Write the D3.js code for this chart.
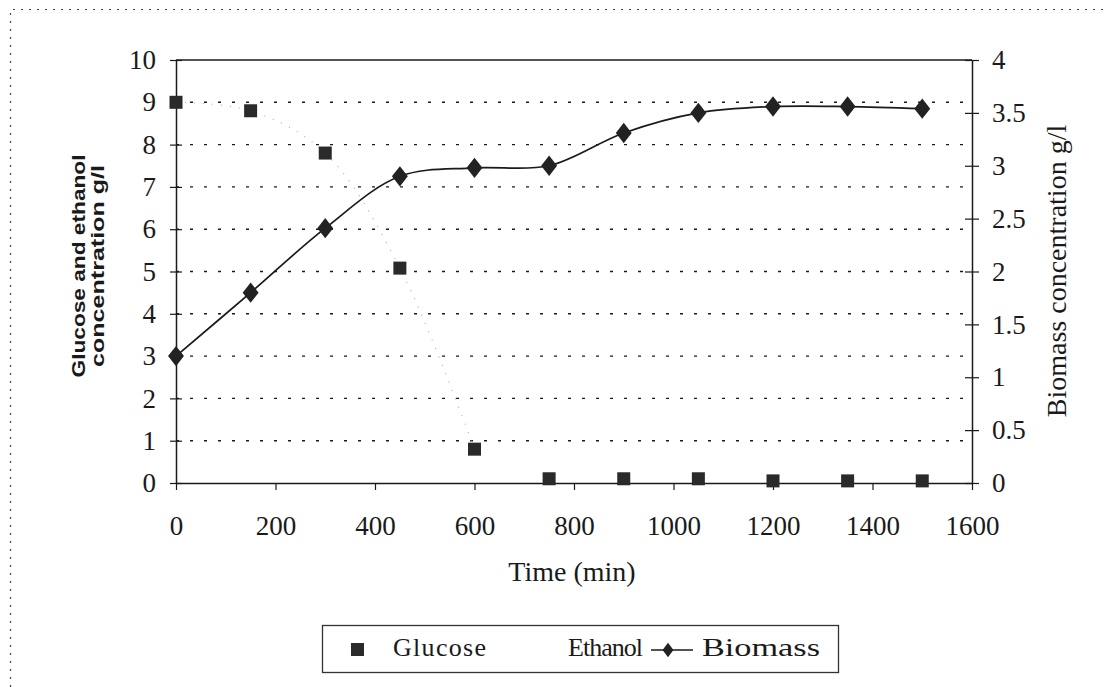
<!DOCTYPE html>
<html>
<head>
<meta charset="utf-8">
<script src="https://cdn.jsdelivr.net/npm/d3@7/dist/d3.min.js"></script>
<style>
  html, body { margin: 0; padding: 0; background: #fff; }
  svg { display: block; }
</style>
</head>
<body>
<svg id="chart" width="1106" height="687"></svg>
<script>
// Sampling times (min)
const time = [0, 150, 300, 450, 600, 750, 900, 1050, 1200, 1350, 1500];
// Glucose concentration, g/l (left axis)
const glucose = [9.0, 8.8, 7.8, 5.08, 0.8, 0.1, 0.1, 0.1, 0.05, 0.05, 0.05];
// Biomass concentration, g/l (right axis)
const biomass = [1.2, 1.8, 2.41, 2.9, 2.98, 3.0, 3.31, 3.5, 3.56, 3.56, 3.54];

const xTicks = [0, 200, 400, 600, 800, 1000, 1200, 1400, 1600];
const yLeftTicks = [0, 1, 2, 3, 4, 5, 6, 7, 8, 9, 10];
const yRightTicks = [0, 0.5, 1, 1.5, 2, 2.5, 3, 3.5, 4];

const ink = "#1a1a1a";
const serif = '"Liberation Serif", "Times New Roman", serif';
const sans = '"Liberation Sans", Arial, sans-serif';
const tickSize = 27;

const svg = d3.select("#chart")
  .style("font-family", serif)
  .attr("fill", ink);

const x = d3.scaleLinear().domain([0, 1600]).range([176, 972]);
const yL = d3.scaleLinear().domain([0, 10]).range([483, 60]);
const yR = d3.scaleLinear().domain([0, 4]).range([483, 60]);

// Outer dotted frame of the figure
svg.append("path")
  .attr("d", "M10.5,687 L10.5,9.5 L1106,9.5")
  .attr("fill", "none").attr("stroke", "#444")
  .attr("stroke-width", 1.2).attr("stroke-dasharray", "2,6");

// Dotted horizontal gridlines
svg.append("g").selectAll("line")
  .data(yLeftTicks.filter(d => d > 0 && d < 10))
  .join("line")
  .attr("x1", x(0)).attr("x2", x(1600))
  .attr("y1", d => yL(d)).attr("y2", d => yL(d))
  .attr("stroke", ink).attr("stroke-width", 1.4)
  .attr("stroke-dasharray", "3,11");

// Top border of plot area
svg.append("line")
  .attr("x1", x(0)).attr("x2", x(1600))
  .attr("y1", yL(10)).attr("y2", yL(10))
  .attr("stroke", ink).attr("stroke-width", 1.5);

function styleTicks(g) {
  g.attr("font-size", tickSize).style("font-family", serif);
  g.select(".domain").attr("stroke", ink).attr("stroke-width", 1.5);
  g.selectAll(".tick text").attr("fill", ink);
}

// Left axis
const leftAxis = svg.append("g")
  .attr("transform", `translate(${x(0)},0)`)
  .call(d3.axisLeft(yL).tickValues(yLeftTicks).tickSize(0).tickPadding(20).tickFormat(d3.format("d")))
  .call(styleTicks);
leftAxis.selectAll(".tick").append("line")
  .attr("x1", -6).attr("x2", 6).attr("stroke", ink).attr("stroke-width", 1.2);

// Right axis
const rightAxis = svg.append("g")
  .attr("transform", `translate(${x(1600)},0)`)
  .call(d3.axisRight(yR).tickValues(yRightTicks).tickSize(0).tickPadding(20).tickFormat(d => String(d)))
  .call(styleTicks);
rightAxis.selectAll(".tick").append("line")
  .attr("x1", -7).attr("x2", 7).attr("stroke", ink).attr("stroke-width", 1.2);

// Bottom axis
const bottomAxis = svg.append("g")
  .attr("transform", `translate(0,${yL(0)})`)
  .call(d3.axisBottom(x).tickValues(xTicks).tickSize(0).tickPadding(33).tickFormat(d3.format("d")))
  .call(styleTicks);
bottomAxis.selectAll(".tick").append("line")
  .attr("y1", 0).attr("y2", 7).attr("stroke", ink).attr("stroke-width", 1.2);

// Axis titles
svg.append("text")
  .attr("transform", `translate(85,266) rotate(-90)`)
  .attr("text-anchor", "middle").attr("font-size", 19).attr("font-weight", "bold")
  .style("font-family", sans)
  .attr("textLength", 223).attr("lengthAdjust", "spacingAndGlyphs")
  .text("Glucose and ethanol");
svg.append("text")
  .attr("transform", `translate(104,266) rotate(-90)`)
  .attr("text-anchor", "middle").attr("font-size", 19).attr("font-weight", "bold")
  .style("font-family", sans)
  .attr("textLength", 202).attr("lengthAdjust", "spacingAndGlyphs")
  .text("concentration g/l");
svg.append("text")
  .attr("transform", `translate(1066,271) rotate(-90)`)
  .attr("text-anchor", "middle").attr("font-size", 28)
  .text("Biomass concentration g/l");
svg.append("text")
  .attr("x", 572).attr("y", 581)
  .attr("text-anchor", "middle").attr("font-size", 28)
  .text("Time (min)");

// Faint smoothed trend through the glucose samples
const glucosePts = time.map((t, i) => [t, glucose[i]]).slice(0, 5);
svg.append("path")
  .datum(glucosePts)
  .attr("d", d3.line().x(d => x(d[0])).y(d => yL(d[1])).curve(d3.curveCatmullRom))
  .attr("fill", "none").attr("stroke", "#aaa")
  .attr("stroke-width", 1.1).attr("stroke-dasharray", "1,8");

// Biomass smoothed line
const biomassPts = time.map((t, i) => [t, biomass[i]]);
svg.append("path")
  .datum(biomassPts)
  .attr("d", d3.line().x(d => x(d[0])).y(d => yR(d[1])).curve(d3.curveCatmullRom))
  .attr("fill", "none").attr("stroke", ink).attr("stroke-width", 1.7);

// Biomass diamonds
const diamond = d3.symbol().type(d3.symbolDiamond).size(120);
svg.append("g").selectAll("path")
  .data(biomassPts)
  .join("path")
  .attr("transform", d => `translate(${x(d[0])},${yR(d[1])}) scale(1.35,1)`)
  .attr("d", diamond)
  .attr("fill", "#222");

// Glucose squares
const sq = 13;
svg.append("g").selectAll("rect")
  .data(time.map((t, i) => [t, glucose[i]]))
  .join("rect")
  .attr("x", d => x(d[0]) - sq / 2)
  .attr("y", d => yL(d[1]) - sq / 2)
  .attr("width", sq).attr("height", sq)
  .attr("fill", "#2a2a2a");

// Legend
const lg = svg.append("g").attr("font-size", 26);
lg.append("rect")
  .attr("x", 322.5).attr("y", 625.5).attr("width", 516).attr("height", 47)
  .attr("fill", "#fff").attr("stroke", "#333").attr("stroke-width", 1.3);
lg.append("rect")
  .attr("x", 351).attr("y", 643).attr("width", 13).attr("height", 13)
  .attr("fill", "#2a2a2a");
lg.append("text").attr("x", 393).attr("y", 656).attr("textLength", 93).text("Glucose");
lg.append("text").attr("x", 568).attr("y", 656).attr("textLength", 75).text("Ethanol");
lg.append("line")
  .attr("x1", 651).attr("x2", 693).attr("y1", 650).attr("y2", 650)
  .attr("stroke", ink).attr("stroke-width", 1.6);
lg.append("path")
  .attr("transform", "translate(668,650) scale(1.3,1)")
  .attr("d", d3.symbol().type(d3.symbolDiamond).size(60))
  .attr("fill", "#222");
lg.append("text").attr("x", 702).attr("y", 656)
  .attr("textLength", 118).attr("lengthAdjust", "spacingAndGlyphs").text("Biomass");
</script>
</body>
</html>
